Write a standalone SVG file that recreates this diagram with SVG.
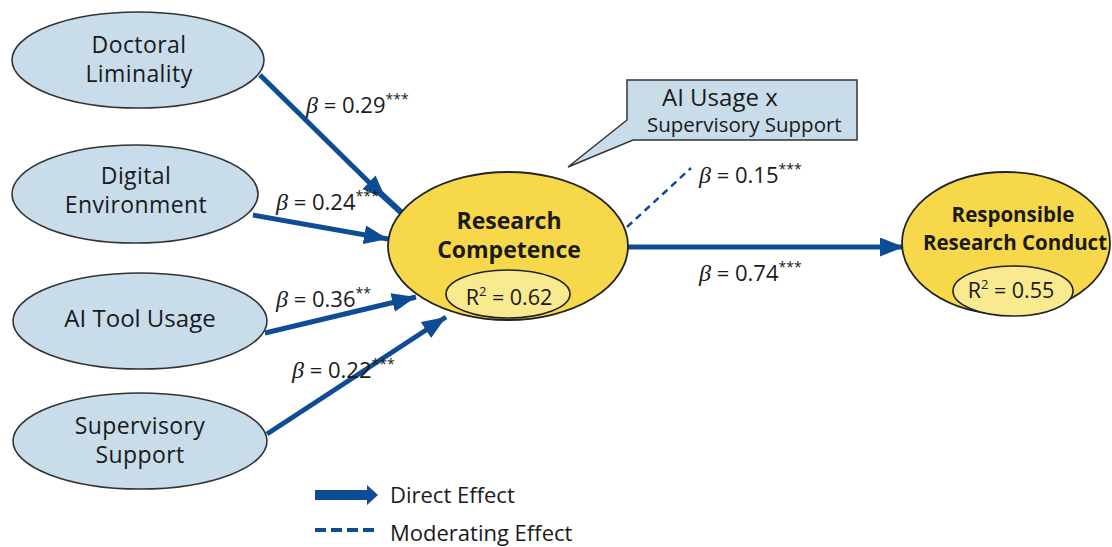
<svg xmlns="http://www.w3.org/2000/svg" width="1112" height="547" viewBox="0 0 1112 547">
<defs>
<style>
.in{fill:#c8dcea;stroke:#333;stroke-width:1.6}
.out{fill:#f7d84a;stroke:#222;stroke-width:1.8}
.r2{fill:#f9e98f;stroke:#222;stroke-width:1.6}
.t{font-family:"Open Sans","Noto Sans","Liberation Sans",sans-serif;fill:#1a1a1a;text-anchor:middle}
.lt{font-size:23px;letter-spacing:0.4px}
.bt{font-weight:bold}
.lbl{font-family:"Open Sans","Noto Sans","Liberation Sans",sans-serif;font-size:22px;fill:#1a1a1a}
.beta{font-family:"Liberation Serif","DejaVu Serif",serif;font-style:italic;font-size:24px}
.st{font-size:14px}
.arr{stroke:#0f4c96;stroke-width:5;fill:none;marker-end:url(#ah)}
.dash{stroke:#0f4c96;stroke-width:2.5;stroke-dasharray:7 5;fill:none}
</style>
<marker id="ah" markerUnits="userSpaceOnUse" markerWidth="26" markerHeight="20" refX="24" refY="9.5" orient="auto">
<path d="M0,0 L24,9.5 L0,19 Z" fill="#0f4c96"/>
</marker>
</defs>
<rect width="1112" height="547" fill="#ffffff"/>

<g id="connectors">
<line class="arr" x1="260" y1="75" x2="386" y2="199"/>
<line x1="378" y1="191" x2="404" y2="215" stroke="#0f4c96" stroke-width="6"/>
<line class="arr" x1="253" y1="215" x2="388" y2="239"/>
<line class="arr" x1="265" y1="333" x2="416" y2="297"/>
<line class="arr" x1="267" y1="434" x2="446" y2="317"/>
<line class="arr" x1="627" y1="247" x2="904" y2="247"/>
<line class="dash" x1="627" y1="227" x2="691" y2="168"/>
</g>

<g id="labels">
<text class="lbl" x="306" y="113"><tspan class="beta">β</tspan> = 0.29<tspan class="st" dy="-9">***</tspan></text>
<text class="lbl" x="276" y="210"><tspan class="beta">β</tspan> = 0.24<tspan class="st" dy="-9">***</tspan></text>
<text class="lbl" x="276" y="307"><tspan class="beta">β</tspan> = 0.36<tspan class="st" dy="-9">**</tspan></text>
<text class="lbl" x="292" y="378"><tspan class="beta">β</tspan> = 0.22<tspan class="st" dy="-9">***</tspan></text>
<text class="lbl" x="699" y="183"><tspan class="beta">β</tspan> = 0.15<tspan class="st" dy="-9">***</tspan></text>
<text class="lbl" x="699" y="281"><tspan class="beta">β</tspan> = 0.74<tspan class="st" dy="-9">***</tspan></text>
</g>

<g id="doctoral-liminality">
<ellipse class="in" cx="138" cy="60" rx="126" ry="48"/>
<text class="t lt"><tspan x="139" y="53">Doctoral</tspan><tspan x="139" y="82">Liminality</tspan></text>
</g>

<g id="digital-environment">
<ellipse class="in" cx="135" cy="194" rx="123" ry="49"/>
<text class="t lt"><tspan x="136" y="184">Digital</tspan><tspan x="136" y="213">Environment</tspan></text>
</g>

<g id="ai-tool-usage">
<ellipse class="in" cx="140" cy="321" rx="127" ry="48"/>
<text class="t" font-size="24" x="140" y="327">AI Tool Usage</text>
</g>

<g id="supervisory-support">
<ellipse class="in" cx="140" cy="441" rx="127" ry="48"/>
<text class="t lt"><tspan x="140" y="434">Supervisory</tspan><tspan x="140" y="463">Support</tspan></text>
</g>

<g id="research-competence">
<ellipse class="out" cx="508" cy="246" rx="120" ry="74"/>
<text class="t bt" font-size="23"><tspan x="509" y="229">Research</tspan><tspan x="509" y="258">Competence</tspan></text>
<ellipse class="r2" cx="508" cy="294" rx="62" ry="24"/>
<text class="t" font-size="21.5" x="509" y="305">R<tspan font-size="13" dy="-9">2</tspan><tspan dy="9"> = 0.62</tspan></text>
</g>

<g id="responsible-research-conduct">
<ellipse class="out" cx="1006" cy="243" rx="104" ry="71"/>
<text class="t bt" font-size="20.5"><tspan x="1013" y="222">Responsible</tspan><tspan x="1015" y="250">Research Conduct</tspan></text>
<ellipse class="r2" cx="1013" cy="291" rx="60" ry="25"/>
<text class="t" font-size="21.5" x="1011" y="298">R<tspan font-size="13" dy="-9">2</tspan><tspan dy="9"> = 0.55</tspan></text>
</g>

<g id="moderator-callout">
<path d="M627,80 H857 V140 H633 L568,167 L627,120 Z" fill="#c8dcea" stroke="#333" stroke-width="1.5"/>
<text class="lbl"><tspan font-size="24" x="662" y="106">AI Usage x</tspan><tspan font-size="20.5" x="647" y="132">Supervisory Support</tspan></text>
</g>

<g id="legend">
<path d="M315,490 H367 V485 L378,495 L367,505 V500 H315 Z" fill="#0f4c96"/>
<text class="lbl" font-size="22.5" x="390" y="503">Direct Effect</text>
<line x1="315" y1="530" x2="377" y2="530" stroke="#0f4c96" stroke-width="4" stroke-dasharray="11 5"/>
<text class="lbl" font-size="22.5" x="390" y="541">Moderating Effect</text>
</g>
</svg>
